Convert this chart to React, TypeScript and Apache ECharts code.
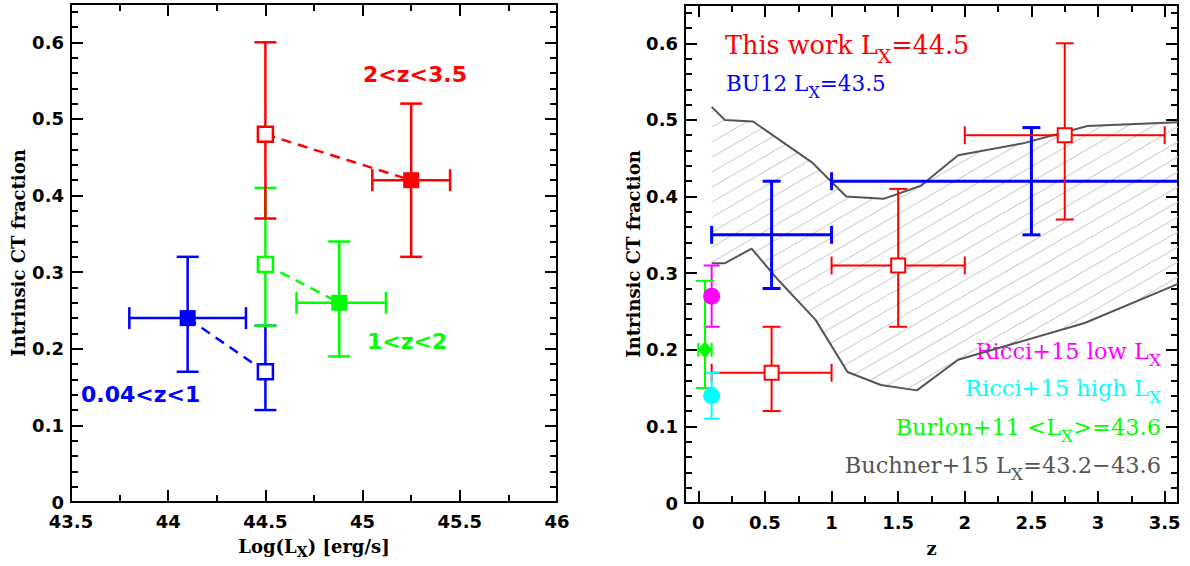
import React, { useEffect, useRef } from 'react';
import * as echarts from 'echarts';

// ---------------- Left panel: CT fraction vs log(L_X) ----------------
// rows: [x, y, xLow, xHigh, yLow, yHigh]
const LOWZ_FILLED = [[44.1, 0.24, 43.8, 44.4, 0.17, 0.32]];
const LOWZ_OPEN = [[44.5, 0.17, null, null, 0.12, 0.23]];
const MIDZ_FILLED = [[44.88, 0.26, 44.66, 45.12, 0.19, 0.34]];
const MIDZ_OPEN = [[44.5, 0.31, null, null, 0.23, 0.41]];
const HIGHZ_FILLED = [[45.25, 0.42, 45.05, 45.45, 0.32, 0.52]];
const HIGHZ_OPEN = [[44.5, 0.48, null, null, 0.37, 0.6]];

const LEFT_X_MAJOR = [43.5, 44, 44.5, 45, 45.5, 46];
const LEFT_X_MINOR = [43.75, 44.25, 44.75, 45.25, 45.75];
const Y_MAJOR = [0, 0.1, 0.2, 0.3, 0.4, 0.5, 0.6];
const Y_MINOR = [0.02, 0.04, 0.06, 0.08, 0.12, 0.14, 0.16, 0.18, 0.22, 0.24, 0.26, 0.28, 0.32, 0.34, 0.36, 0.38, 0.42, 0.44, 0.46, 0.48, 0.52, 0.54, 0.56, 0.58, 0.62, 0.64];

// ---------------- Right panel: CT fraction vs z ----------------
const THIS_WORK = [
  [0.55, 0.17, 0.1, 1.0, 0.12, 0.23],
  [1.5, 0.31, 1.0, 2.0, 0.23, 0.41],
  [2.75, 0.48, 2.0, 3.5, 0.37, 0.6],
];
const BU12 = [
  [0.55, 0.35, 0.1, 1.0, 0.28, 0.42],
  [2.5, 0.42, 1.0, 4.0, 0.35, 0.49],
];
const RICCI_LOW = [[0.1, 0.27, null, null, 0.23, 0.31]];
const RICCI_HIGH = [[0.1, 0.14, null, null, 0.11, 0.17]];
const BURLON = [[0.05, 0.2, 0.0, 0.1, 0.15, 0.29]];
const BUCHNER_UPPER = [
  [0.1, 0.517], [0.2, 0.5], [0.41, 0.498], [0.85, 0.445], [1.11, 0.4], [1.39, 0.397],
  [1.67, 0.414], [1.95, 0.454], [2.45, 0.47], [2.92, 0.492], [3.6, 0.497],
];
const BUCHNER_LOWER = [
  [0.1, 0.313], [0.2, 0.313], [0.4, 0.332], [0.6, 0.291], [0.88, 0.239], [1.12, 0.171],
  [1.37, 0.154], [1.64, 0.147], [1.95, 0.187], [2.9, 0.235], [3.6, 0.286],
];
const RIGHT_X_MAJOR = [0, 0.5, 1, 1.5, 2, 2.5, 3, 3.5];
const RIGHT_X_MINOR = [0.25, 0.75, 1.25, 1.75, 2.25, 2.75, 3.25];

const RED = '#ff0000';
const BLUE = '#0000ff';
const GREEN = '#00ff00';
const MAGENTA = '#ff00ff';
const CYAN = '#00ffff';
const GRAY = '#555555';
const SANS = '"DejaVu Sans", sans-serif';
const SERIF = '"DejaVu Serif", serif';

const ok = (v: any) => typeof v === 'number' && Number.isFinite(v);

function errRender(cap: number, capX: number, width: number, color: string) {
  return (_params: any, api: any) => {
    const x = api.value(0), y = api.value(1);
    const xl = api.value(2), xh = api.value(3), yl = api.value(4), yh = api.value(5);
    const children: any[] = [];
    const style = { stroke: color, lineWidth: width };
    const seg = (x1: number, y1: number, x2: number, y2: number) =>
      children.push({ type: 'line', shape: { x1, y1, x2, y2 }, style });
    if (ok(yl) && ok(yh)) {
      const a = api.coord([x, yl]), b = api.coord([x, yh]);
      seg(a[0], a[1], b[0], b[1]);
      seg(a[0] - cap, a[1], a[0] + cap, a[1]);
      seg(b[0] - cap, b[1], b[0] + cap, b[1]);
    }
    if (ok(xl) && ok(xh)) {
      const a = api.coord([xl, y]), b = api.coord([xh, y]);
      seg(a[0], a[1], b[0], b[1]);
      seg(a[0], a[1] - capX, a[0], a[1] + capX);
      seg(b[0], b[1] - capX, b[0], b[1] + capX);
    }
    return { type: 'group', children };
  };
}

function errSeries(data: any[], xi: number, yi: number, cap: number, capX: number, width: number, color: string, z = 2) {
  return {
    type: 'custom',
    xAxisIndex: xi,
    yAxisIndex: yi,
    data,
    encode: { x: 0, y: 1 },
    renderItem: errRender(cap, capX, width, color),
    clip: true,
    silent: true,
    z,
  };
}

function markSeries(data: any[], xi: number, yi: number, symbol: string, size: any, color: string, open: boolean, bw = 2.5, z = 5) {
  return {
    type: 'scatter',
    xAxisIndex: xi,
    yAxisIndex: yi,
    data: data.map((d) => [d[0], d[1]]),
    symbol,
    symbolSize: size,
    itemStyle: open
      ? { color: '#ffffff', borderColor: color, borderWidth: bw, opacity: 1 }
      : { color, borderWidth: 0, opacity: 1 },
    silent: true,
    z,
  };
}

function dashSeries(a: any[], b: any[], color: string) {
  return {
    type: 'line',
    xAxisIndex: 0,
    yAxisIndex: 0,
    data: [[a[0], a[1]], [b[0], b[1]]],
    showSymbol: false,
    symbol: 'none',
    lineStyle: { color, width: 2.5, type: [10, 7], opacity: 1 },
    silent: true,
    z: 3,
  };
}

const hatchRender = (_params: any, api: any) => {
  const up = BUCHNER_UPPER.map((p) => api.coord(p));
  const lo = BUCHNER_LOWER.map((p) => api.coord(p)).reverse();
  const poly = up.concat(lo);
  const slope = 0.58;
  const N = Math.hypot(slope, 1);
  const nx = slope / N, ny = 1 / N;
  const dx = 1 / N, dy = -slope / N;
  const proj = poly.map((p: number[]) => p[0] * nx + p[1] * ny);
  const cmin = Math.min(...proj), cmax = Math.max(...proj);
  const step = 15 / N;
  const children: any[] = [];
  for (let c = Math.ceil(cmin / step) * step; c <= cmax; c += step) {
    const hits: number[][] = [];
    for (let i = 0; i < poly.length; i++) {
      const j = (i + 1) % poly.length;
      const a = poly[i], b = poly[j];
      const da = proj[i] - c, db = proj[j] - c;
      if ((da < 0) !== (db < 0)) {
        const t = da / (da - db);
        const px = a[0] + t * (b[0] - a[0]);
        const py = a[1] + t * (b[1] - a[1]);
        hits.push([px, py, px * dx + py * dy]);
      }
    }
    hits.sort((p, q) => p[2] - q[2]);
    for (let k = 0; k + 1 < hits.length; k += 2) {
      children.push({
        type: 'line',
        shape: { x1: hits[k][0], y1: hits[k][1], x2: hits[k + 1][0], y2: hits[k + 1][1] },
        style: { stroke: '#d4d4d4', lineWidth: 1.2 },
      });
    }
  }
  return { type: 'group', children };
};

function axisSet(kind: 'x' | 'y', gridIndex: number, min: number, max: number, major: number[], minor: number[], extra: any) {
  const posA = kind === 'x' ? 'bottom' : 'left';
  const posB = kind === 'x' ? 'top' : 'right';
  const base = {
    type: 'value',
    gridIndex,
    min,
    max,
    splitLine: { show: false },
    axisLine: { show: true, onZero: false, lineStyle: { color: '#000', width: 2 } },
  };
  const tick = (vals: number[], len: number) => ({
    show: true,
    inside: true,
    length: len,
    customValues: vals,
    lineStyle: { color: '#000', width: 2 },
  });
  return [
    {
      ...base,
      position: posA,
      axisTick: tick(major, 12),
      axisLabel: {
        show: true,
        customValues: major,
        color: '#000',
        fontFamily: SANS,
        fontWeight: 'bold',
        fontSize: 18,
        margin: kind === 'x' ? 10 : 7,
      },
      ...extra,
    },
    { ...base, position: posA, axisTick: tick(minor, 7), axisLabel: { show: false } },
    { ...base, position: posB, axisTick: tick(major, 12), axisLabel: { show: false } },
    { ...base, position: posB, axisTick: tick(minor, 7), axisLabel: { show: false } },
  ];
}

const nameStyle = {
  color: '#000',
  fontFamily: SERIF,
  fontWeight: 'bold',
  fontSize: 18,
  rich: {
    a: { fontFamily: SERIF, fontWeight: 'bold', fontSize: 18, color: '#000', lineHeight: 18, verticalAlign: 'top' },
    s: { fontFamily: SERIF, fontWeight: 'bold', fontSize: 14, color: '#000', lineHeight: 30, verticalAlign: 'middle' },
  },
};

function subText(left: number, top: number, parts: string[], color: string, size: number, align: string, weight = 'normal') {
  // parts: alternating normal / subscript pieces, starting with normal
  let text = '';
  parts.forEach((p, i) => {
    if (p) text += `{${i % 2 === 0 ? 'a' : 's'}|${p}}`;
  });
  return {
    type: 'text',
    x: left,
    y: top,
    silent: true,
    style: {
      text,
      align,
      verticalAlign: 'top',
      rich: {
        a: { fontFamily: SERIF, fontSize: size, fontWeight: weight, fill: color, color, lineHeight: size, verticalAlign: 'top' },
        s: { fontFamily: SERIF, fontSize: Math.round(size * 0.75), fontWeight: weight, fill: color, color, lineHeight: Math.round(size * 1.84), verticalAlign: 'middle' },
      },
    },
  };
}

function plainText(left: number, cy: number, text: string, color: string, size: number) {
  return {
    type: 'text',
    x: left,
    y: cy,
    silent: true,
    style: {
      text,
      fill: color,
      font: `bold ${size}px ${SANS}`,
      align: 'left',
      verticalAlign: 'middle',
    },
  };
}

export default function App() {
  const ref = useRef<HTMLDivElement>(null);
  useEffect(() => {
    if (!ref.current) return;
    const chart = echarts.init(ref.current, undefined, { renderer: 'svg' });
    const xAxes = [
      ...axisSet('x', 0, 43.5, 46, LEFT_X_MAJOR, LEFT_X_MINOR, {
        name: '{a|Log(L}{s|X}{a|) [erg/s]}',
        nameLocation: 'middle',
        nameGap: 35,
        nameTextStyle: nameStyle,
      }),
      ...axisSet('x', 1, -0.1, 3.6, RIGHT_X_MAJOR, RIGHT_X_MINOR, {
        name: 'z',
        nameLocation: 'middle',
        nameGap: 36,
        nameTextStyle: nameStyle,
      }),
    ];
    const yAxes = [
      ...axisSet('y', 0, 0, 0.65, Y_MAJOR, Y_MINOR, {
        name: 'Intrinsic CT fraction',
        nameLocation: 'middle',
        nameGap: 44,
        nameTextStyle: nameStyle,
      }),
      ...axisSet('y', 1, 0, 0.65, Y_MAJOR, Y_MINOR, {
        name: 'Intrinsic CT fraction',
        nameLocation: 'middle',
        nameGap: 43,
        nameTextStyle: nameStyle,
      }),
    ];
    const RX = 4, RY = 4; // right panel main axes indices

    const series: any[] = [
      // left panel
      errSeries(LOWZ_FILLED, 0, 0, 11, 11, 2.5, BLUE),
      errSeries(LOWZ_OPEN, 0, 0, 11, 11, 2.5, BLUE),
      errSeries(MIDZ_FILLED, 0, 0, 11, 11, 2.5, GREEN),
      errSeries(MIDZ_OPEN, 0, 0, 11, 11, 2.5, GREEN),
      errSeries(HIGHZ_FILLED, 0, 0, 11, 11, 2.5, RED),
      errSeries(HIGHZ_OPEN, 0, 0, 11, 11, 2.5, RED),
      dashSeries(LOWZ_FILLED[0], LOWZ_OPEN[0], BLUE),
      dashSeries(MIDZ_OPEN[0], MIDZ_FILLED[0], GREEN),
      dashSeries(HIGHZ_OPEN[0], HIGHZ_FILLED[0], RED),
      markSeries(LOWZ_FILLED, 0, 0, 'rect', 16, BLUE, false),
      markSeries(LOWZ_OPEN, 0, 0, 'rect', 15, BLUE, true),
      markSeries(MIDZ_FILLED, 0, 0, 'rect', 16, GREEN, false),
      markSeries(MIDZ_OPEN, 0, 0, 'rect', 15, GREEN, true),
      markSeries(HIGHZ_FILLED, 0, 0, 'rect', 16, RED, false),
      markSeries(HIGHZ_OPEN, 0, 0, 'rect', 15, RED, true),
      // right panel
      {
        type: 'custom',
        xAxisIndex: RX,
        yAxisIndex: RY,
        data: [[1, 0.3]],
        encode: { x: 0, y: 1 },
        renderItem: hatchRender,
        clip: true,
        silent: true,
        z: 1,
      },
      {
        type: 'line', xAxisIndex: RX, yAxisIndex: RY, data: BUCHNER_UPPER, showSymbol: false, symbol: 'none',
        lineStyle: { color: GRAY, width: 2 }, silent: true, z: 1,
      },
      {
        type: 'line', xAxisIndex: RX, yAxisIndex: RY, data: BUCHNER_LOWER, showSymbol: false, symbol: 'none',
        lineStyle: { color: GRAY, width: 2 }, silent: true, z: 1,
      },
      errSeries(BU12, RX, RY, 9, 9, 3, BLUE),
      errSeries(THIS_WORK, RX, RY, 9, 9, 2, RED),
      errSeries(RICCI_LOW, RX, RY, 8, 8, 2, MAGENTA),
      errSeries(RICCI_HIGH, RX, RY, 8, 8, 2, CYAN),
      errSeries(BURLON, RX, RY, 9, 7, 2, GREEN),
      markSeries(THIS_WORK, RX, RY, 'rect', 14, RED, true, 2),
      markSeries(RICCI_LOW, RX, RY, 'circle', 17, MAGENTA, false),
      markSeries(RICCI_HIGH, RX, RY, 'circle', 17, CYAN, false),
      markSeries(BURLON, RX, RY, 'diamond', [15, 17], GREEN, false),
    ];

    const graphic: any[] = [
      plainText(363, 74, '2<z<3.5', RED, 22),
      plainText(367, 341, '1<z<2', GREEN, 22),
      plainText(81, 394, '0.04<z<1', BLUE, 22),
      subText(725, 32, ['This work L', 'X', '=44.5'], RED, 25.5, 'left'),
      subText(726, 72, ['BU12 L', 'X', '=43.5'], BLUE, 21.5, 'left'),
      subText(1161, 339, ['Ricci+15 low L', 'X', ''], MAGENTA, 22.5, 'right'),
      subText(1161, 376, ['Ricci+15 high L', 'X', ''], CYAN, 22.5, 'right'),
      subText(1161, 415, ['Burlon+11 <L', 'X', '>=43.6'], GREEN, 22.5, 'right'),
      subText(1161, 453, ['Buchner+15 L', 'X', '=43.2\u221243.6'], GRAY, 22.5, 'right'),
    ];

    chart.setOption({
      animation: false,
      backgroundColor: '#ffffff',
      grid: [
        { left: 71, top: 4, width: 486, height: 498, outerBoundsMode: 'none', containLabel: false },
        { left: 685, top: 5, width: 493, height: 498, outerBoundsMode: 'none', containLabel: false },
      ],
      xAxis: xAxes,
      yAxis: yAxes,
      series,
      graphic,
    });
    return () => chart.dispose();
  }, []);
  return (
    <div
      ref={ref}
      style={{ position: 'absolute', left: 0, top: 0, width: 1190, height: 566, background: '#fff' }}
    />
  );
}
